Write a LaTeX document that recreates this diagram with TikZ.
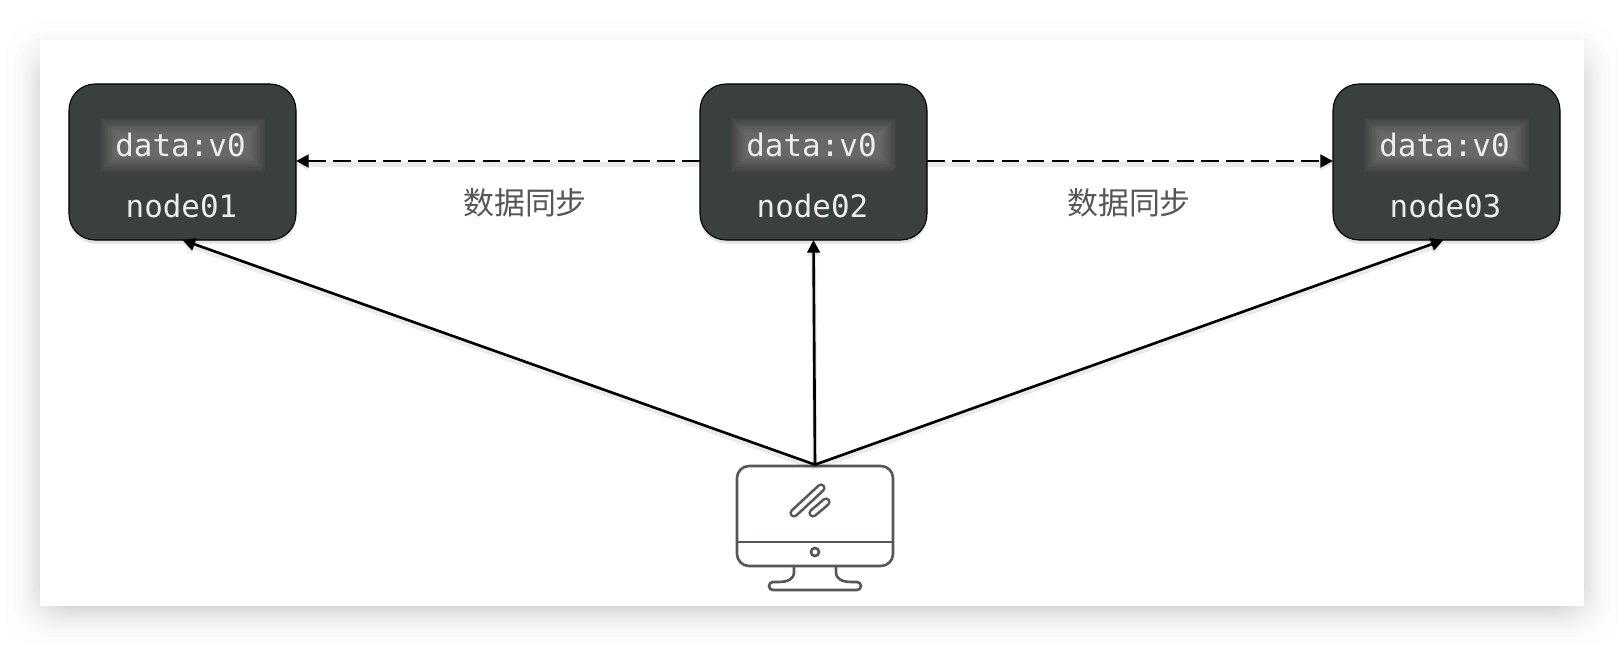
\documentclass[tikz,border=0pt]{standalone}
\usepackage{fontspec}
\usepackage{tikz}
\usetikzlibrary{arrows.meta,shadows}
\setmonofont{DejaVu Sans Mono}
\newfontfamily\cjk{Noto Sans CJK SC}
\definecolor{cardfill}{HTML}{3A3F40}
\definecolor{dataedge}{HTML}{424444}
\definecolor{datamid}{HTML}{686868}
\definecolor{iconline}{HTML}{555859}
\definecolor{synctext}{HTML}{565656}
\tikzset{
    nodecard/.style={draw=black,line width=.3pt,fill=cardfill,rounded corners=.26cm,outer sep=0pt,minimum width=2.27cm,minimum height=1.56cm,drop shadow={shadow xshift=0pt,shadow yshift=-1pt,opacity=.22}},
    monotext/.style={text=white!93!black,font=\ttfamily\fontsize{8.8pt}{10pt}\selectfont,inner sep=0pt},
    synclabel/.style={text=synctext,font=\cjk\fontsize{8.8pt}{10pt}\selectfont,inner sep=0pt},
    softline/.style={preaction={draw=black,opacity=.08,line width=1.4pt,transform canvas={yshift=-.9pt}}},
    request/.style={draw=black,line width=.75pt,-{Triangle[length=3.6pt,width=3.6pt]},softline},
    syncline/.style={request,line width=.8pt,dash pattern=on 5pt off 2.1pt},
    icon/.style={draw=iconline,line width=.75pt}
}
\begin{document}
\begin{tikzpicture}
    \useasboundingbox (0,0) rectangle (16.24,6.46);

    \foreach \i [evaluate=\i as \d using .089*sqrt(\i)] in {0,...,20}
        \fill[black,opacity=.006,rounded corners=.35cm] (.05+\d,\d) rectangle (16.19-\d,6.24-\d);
    \fill[white] (.40,.40) rectangle (15.84,6.06);

    \foreach \x/\n in {1.825/1,8.135/2,14.465/3} {
        \node[nodecard] (node0\n) at (\x,4.84) {};
        \foreach \i [evaluate=\i as \p using \i*5] in {0,...,20}
            \fill[datamid!\p!dataedge] (\x-.825+.0075*\i,5.28-.0075*\i) rectangle (\x+.825-.0075*\i,4.74+.0075*\i);
        \node[monotext] (data0\n) at (\x-.02,5.01) {data:v0};
        \node[monotext] (name0\n) at (\x-.01,4.40) {node0\n};
    }

    \draw[syncline] ([yshift=.01cm]node02.west) -- ([yshift=.01cm]node01.east);
    \draw[syncline] ([yshift=.01cm]node02.east) -- ([yshift=.01cm]node03.west);
    \node[synclabel] (sync01) at (5.25,4.43) {数据同步};
    \node[synclabel] (sync02) at (11.29,4.43) {数据同步};

    \node[icon,rounded corners=.12cm,minimum width=1.56cm,minimum height=1.00cm,inner sep=0pt] (pc) at (8.15,1.30) {};
    \draw[icon] (pc.west |- 0,1.04) -- (pc.east |- 0,1.04);
    \draw[icon] (8.15,.94) circle (.04);
    \draw[iconline,line width=.75pt,double=white,double distance=.04cm,line cap=round] (7.94,1.33) -- (8.21,1.58);
    \draw[iconline,line width=.75pt,double=white,double distance=.04cm,line cap=round] (8.13,1.33) -- (8.26,1.44);
    \draw[icon] (7.94,.80) -- (7.94,.74) .. controls (7.94,.67) and (7.88,.64) .. (7.78,.64)
        -- (7.73,.64) arc (90:270:.04) -- (8.57,.56) arc (-90:90:.04) -- (8.52,.64)
        .. controls (8.42,.64) and (8.36,.67) .. (8.36,.74) -- (8.36,.80);

    \draw[request] (pc.north) -- (node01.south);
    \draw[request] (pc.north) -- (node02.south);
    \draw[request] (pc.north) -- ([xshift=-.03cm]node03.south);
\end{tikzpicture}
\end{document}
